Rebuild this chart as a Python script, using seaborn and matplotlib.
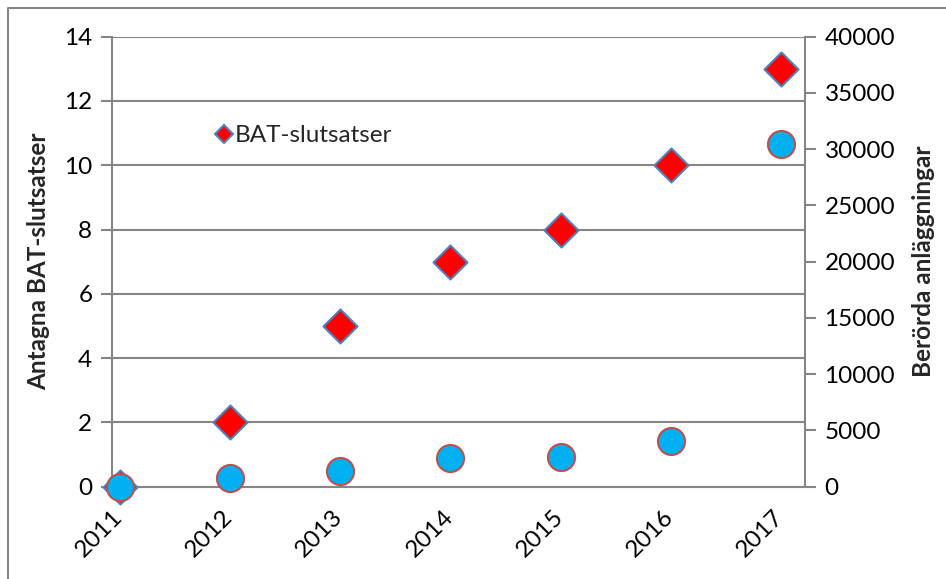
import numpy as np
import pandas as pd
import matplotlib.pyplot as plt
import seaborn as sns
from matplotlib.lines import Line2D

## Data
years = [2011, 2012, 2013, 2014, 2015, 2016, 2017]
bat_slutsatser = [0, 2, 5, 7, 8, 10, 13]
berorda_anlaggningar = [0, 750, 1400, 2520, 2640, 4050, 30500]

df = pd.DataFrame({'year': years,
                   'bat': bat_slutsatser,
                   'anl': berorda_anlaggningar})
# points sit a little right of the year ticks, as in the original
df['xpos'] = df['year'] + 0.073

sns.set_style('white')
plt.rcParams['font.family'] = ['Lato', 'DejaVu Sans']
fs = 17.5

W, H = 946, 579
fig = plt.figure(figsize=(W / 100, H / 100), dpi=100)
ax = fig.add_axes([111.7 / W, 1 - 486.7 / H, (805 - 111.7) / W, (486.7 - 36.7) / H])
ax2 = ax.twinx()

grey = '#868686'

# left axis: diamonds
sns.scatterplot(data=df, x='xpos', y='bat', ax=ax, marker='D', s=300,
                color='#FF0000', edgecolor='#4F81BD', linewidth=1.5,
                zorder=3, legend=False, clip_on=False)
# right axis: circles (twin axes is drawn on top)
sns.scatterplot(data=df, x='xpos', y='anl', ax=ax2, marker='o', s=380,
                color='#00B0F0', edgecolor='#C0504D', linewidth=1.5,
                zorder=3, legend=False, clip_on=False)

ax.set_xlim(2011, 2017.29)
ax.set_ylim(0, 14)
ax2.set_ylim(0, 40000)
ax.set_xticks(years)
ax.set_xticklabels([str(y) for y in years], rotation=45, ha='right',
                   rotation_mode='anchor', fontsize=fs)
ax.set_yticks(np.arange(0, 15, 2))
ax.set_yticklabels([str(v) for v in range(0, 15, 2)], fontsize=fs)
ax2.set_yticks(np.arange(0, 40001, 5000))
ax2.set_yticklabels([str(v) for v in range(0, 40001, 5000)], fontsize=fs)

ax.yaxis.grid(True, color=grey, linewidth=1.5)
ax.set_axisbelow(True)
for a in (ax, ax2):
    a.tick_params(axis='both', direction='out', length=8, width=1.5,
                  color=grey, pad=6, labelcolor='black')
    for side in ('top', 'bottom', 'left', 'right'):
        a.spines[side].set_visible(False)
ax.spines['left'].set_visible(True)
ax.spines['bottom'].set_visible(True)
ax2.spines['right'].set_visible(True)
for s in (ax.spines['left'], ax.spines['bottom'], ax2.spines['right']):
    s.set_color(grey)
    s.set_linewidth(1.5)

ax.set_xlabel('')
ax.set_ylabel('Antagna BAT-slutsatser', fontsize=fs, fontweight='bold', labelpad=10)
ax2.set_ylabel('Berörda anläggningar', fontsize=fs, fontweight='bold', labelpad=12)

handle = Line2D([], [], marker='D', linestyle='none', markersize=9,
                markerfacecolor='#FF0000', markeredgecolor='#4F81BD',
                markeredgewidth=1.5)
ax2.legend([handle], ['BAT-slutsatser'], loc='upper left',
           bbox_to_anchor=(0.13, 0.83), frameon=False, fontsize=fs,
           handletextpad=0.05, handlelength=0.8, borderpad=0)

# chart border (only left and top show)
fig.add_artist(Line2D([7.5 / W, 7.5 / W, 1], [0, 1 - 7.5 / H, 1 - 7.5 / H],
                      transform=fig.transFigure, color=grey, linewidth=1.5))

fig.savefig('out.png', dpi=100)
